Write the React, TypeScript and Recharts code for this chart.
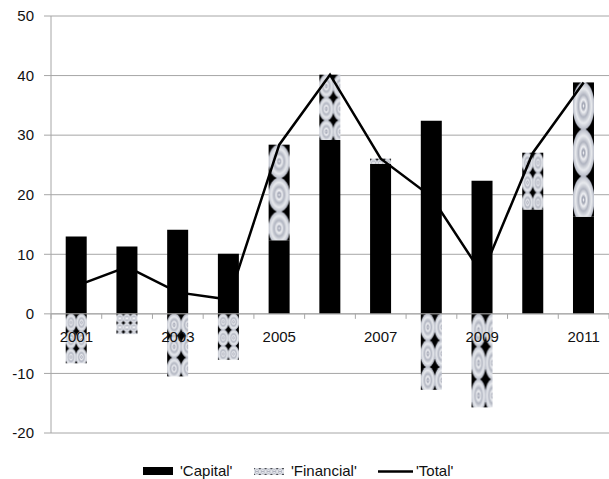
import React from "react";
import { Bar, CartesianGrid, ComposedChart, Line, ReferenceLine, XAxis, YAxis } from "recharts";

const years = ["2001", "2002", "2003", "2004", "2005", "2006", "2007", "2008", "2009", "2010", "2011"];
const capital = [13.0, 11.3, 14.1, 10.1, 12.35, 29.2, 25.2, 32.4, 22.35, 17.5, 16.3];
const financial = [-8.3, -3.4, -10.5, -7.7, 16.05, 10.95, 0.85, -12.75, -15.7, 9.55, 22.55];
const total = [4.7, 7.9, 3.6, 2.4, 28.4, 40.15, 26.05, 19.65, 6.65, 27.05, 38.85];
const yTicks = [-20, -10, 0, 10, 20, 30, 40, 50];

const data = years.map((year, i) => ({
  year,
  Capital: capital[i],
  Financial: financial[i],
  Total: total[i]
}));

const W = 609;
const H = 479;
const TOP = 16;
const BOTTOM = 16;
const X_AXIS_H = 30;
const Y_MIN = -20;
const Y_MAX = 50;
const PLOT_H = H - TOP - BOTTOM - X_AXIS_H;
const ZERO_Y = TOP + (PLOT_H * Y_MAX) / (Y_MAX - Y_MIN);
const GRID = "#a6a6a6";
const FONT = "'Liberation Sans', Arial, sans-serif";

// one tile of the ring texture: black ground, an ellipse shaded with concentric grey rings
function RingTile({ w, h }: { w: number; h: number }) {
  return (
    <>
      <rect width={w} height={h} fill="#000" />
      <ellipse cx={w / 2} cy={h / 2} rx={w / 2 + 0.4} ry={h / 2 + 0.4} fill="url(#rings)" />
    </>
  );
}

// texture is scaled with the bar, so short bars get small dense rings and tall ones big rings
function FinancialShape(props: any) {
  const { x, y, width, height, index } = props;
  if (!width || !height) return null;
  const top = Math.min(y, y + height);
  const h = Math.abs(height);
  const tileH = Math.max(9, Math.min(47, h * 0.35));
  const cols = h < 30 ? 3 : h < 60 ? 2 : h < 95 ? 1.5 : 1;
  const tileW = width / cols;
  const id = `fin-${index}`;
  return (
    <g>
      <defs>
        <pattern id={id} patternUnits="userSpaceOnUse" x={x} y={top} width={tileW} height={tileH}>
          <RingTile w={tileW} h={tileH} />
        </pattern>
      </defs>
      <rect x={x} y={top} width={width} height={h} fill={`url(#${id})`} />
    </g>
  );
}

function YearTick(props: any) {
  const { x, index, payload } = props;
  const band = (W - 51) / years.length;
  const left = x - band / 2;
  return (
    <g>
      <line x1={left} x2={left} y1={ZERO_Y} y2={ZERO_Y + 5} stroke={GRID} />
      {index === years.length - 1 && (
        <line x1={left + band} x2={left + band} y1={ZERO_Y} y2={ZERO_Y + 5} stroke={GRID} />
      )}
      {index % 2 === 0 && (
        <text x={x} y={ZERO_Y + 28} textAnchor="middle" fontSize={15} fontFamily={FONT} fill="#111">
          {payload.value}
        </text>
      )}
    </g>
  );
}

function LegendRow() {
  const label = { fontSize: 15, fontFamily: FONT, color: "#111", whiteSpace: "nowrap" as const };
  return (
    <div style={{ position: "absolute", left: 0, top: 462, width: W, height: 18 }}>
      <svg width={30} height={8} style={{ position: "absolute", left: 143, top: 5 }}>
        <rect width={30} height={8} fill="#000" />
      </svg>
      <span style={{ ...label, position: "absolute", left: 180, top: 0 }}>'Capital'</span>
      <svg width={30} height={7} style={{ position: "absolute", left: 254, top: 5.5 }}>
        <defs>
          <pattern id="legend-fin" patternUnits="userSpaceOnUse" width={5.8} height={7}>
            <RingTile w={5.8} h={7} />
          </pattern>
        </defs>
        <rect width={30} height={7} fill="url(#legend-fin)" />
      </svg>
      <span style={{ ...label, position: "absolute", left: 291, top: 0 }}>'Financial'</span>
      <svg width={35} height={9} style={{ position: "absolute", left: 378, top: 4.5 }}>
        <line x1={0} x2={35} y1={4.5} y2={4.5} stroke="#000" strokeWidth={2.5} />
      </svg>
      <span style={{ ...label, position: "absolute", left: 416, top: 0 }}>'Total'</span>
    </div>
  );
}

export default function App() {
  return (
    <div style={{ position: "absolute", left: 0, top: 0, width: W, height: H, background: "#fff" }}>
      <ComposedChart
        width={W}
        height={H}
        data={data}
        stackOffset="sign"
        barCategoryGap="29%"
        margin={{ top: TOP, right: 0, bottom: BOTTOM, left: 0 }}
      >
        <defs>
          <radialGradient id="rings" cx="50%" cy="50%" r="50%">
            <stop offset="0%" stopColor="#fafafc" />
            <stop offset="12%" stopColor="#9da1b0" />
            <stop offset="26%" stopColor="#f0f1f4" />
            <stop offset="46%" stopColor="#b0b4c0" />
            <stop offset="72%" stopColor="#e8eaee" />
            <stop offset="100%" stopColor="#b4b8c4" />
          </radialGradient>
        </defs>
        <CartesianGrid vertical={false} stroke={GRID} />
        <XAxis
          dataKey="year"
          height={X_AXIS_H}
          axisLine={false}
          tickLine={false}
          interval={0}
          tick={<YearTick />}
        />
        <YAxis
          width={51}
          domain={[Y_MIN, Y_MAX]}
          ticks={yTicks}
          interval={0}
          axisLine={{ stroke: GRID }}
          tickLine={{ stroke: GRID }}
          tickSize={7}
          tickMargin={10}
          tick={{ fontSize: 15, fontFamily: FONT, fill: "#111" }}
        />
        <ReferenceLine y={0} stroke={GRID} />
        <Bar dataKey="Capital" stackId="a" fill="#000" isAnimationActive={false} />
        <Bar dataKey="Financial" stackId="a" shape={<FinancialShape />} isAnimationActive={false} />
        <Line
          dataKey="Total"
          type="linear"
          stroke="#000"
          strokeWidth={2.5}
          dot={false}
          activeDot={false}
          isAnimationActive={false}
        />
      </ComposedChart>
      <LegendRow />
    </div>
  );
}
